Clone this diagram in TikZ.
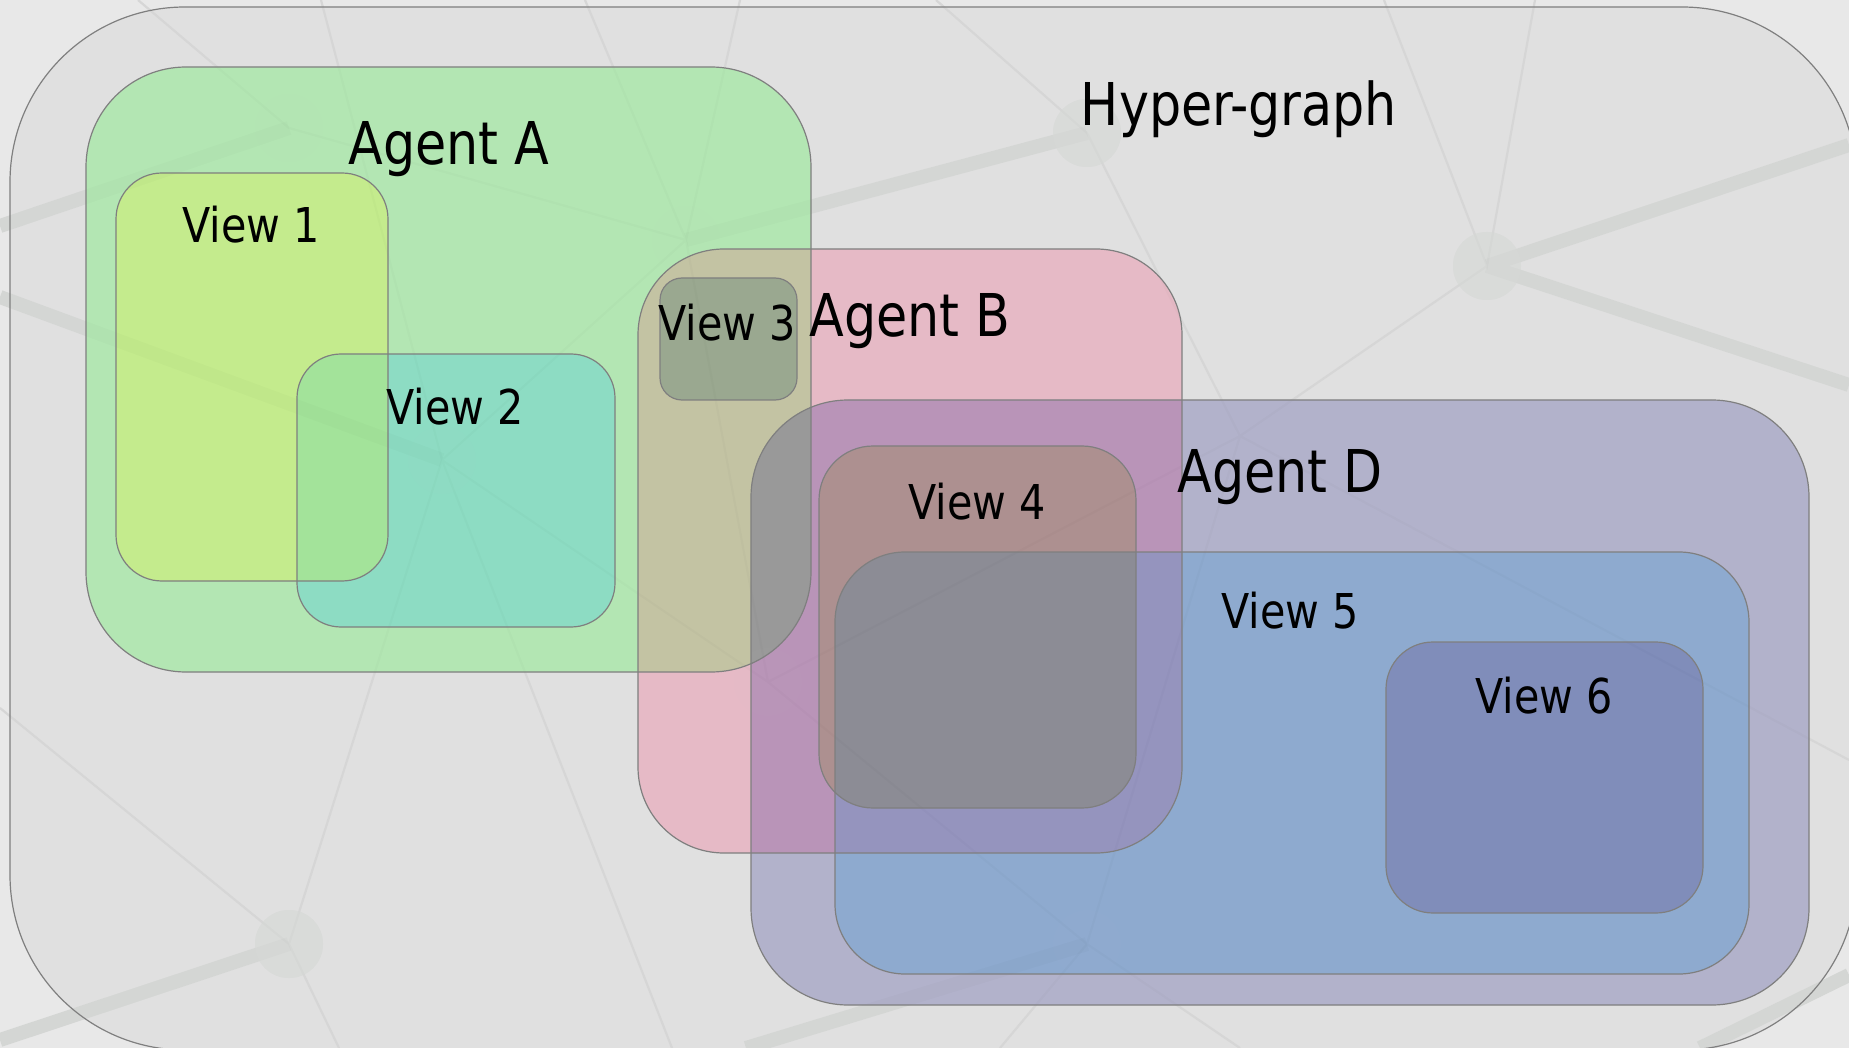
\documentclass[tikz,border=0pt]{standalone}
\usepackage{fontspec}
\setmainfont{DejaVu Sans}[FakeStretch=0.86]

\definecolor{bgout}{HTML}{E8E8E8}
\definecolor{hyperfill}{HTML}{E0E0E0}
\definecolor{netline}{HTML}{D8DAD8}
\definecolor{netfine}{HTML}{DADADA}
\definecolor{netspot}{HTML}{D9DBD9}
\definecolor{cAgA}{HTML}{B3E6B3}
\definecolor{cViewI}{HTML}{C4EB8D}
\definecolor{cViewII}{HTML}{8DDCC3}
\definecolor{cViewIandII}{HTML}{A3E39A}
\definecolor{cAgB}{HTML}{E6BAC6}
\definecolor{cAandB}{HTML}{C3C3A3}
\definecolor{cViewIII}{HTML}{9AA890}
\definecolor{cAgD}{HTML}{B2B2CB}
\definecolor{cBandD}{HTML}{B994B8}
\definecolor{cAandD}{HTML}{999999}
\definecolor{cViewIV}{HTML}{AD9090}
\definecolor{cViewV}{HTML}{8EAACF}
\definecolor{cVinB}{HTML}{9594BE}
\definecolor{cVinIV}{HTML}{8C8C95}
\definecolor{cViewVI}{HTML}{808DBA}
\definecolor{edgegray}{HTML}{7F7F7F}

% rounded boxes, in pixel-like units (1 unit = 0.5pt)
\newcommand\shHyper{[rounded corners=87.5pt] (10,7) rectangle (1857,1050)}
\newcommand\shAgA{[rounded corners=50pt] (86,67) rectangle (811,672)}
\newcommand\shViewI{[rounded corners=23pt] (116,173) rectangle (388,581)}
\newcommand\shViewII{[rounded corners=22pt] (297,354) rectangle (615,627)}
\newcommand\shViewIII{[rounded corners=11pt] (660,278) rectangle (797,400)}
\newcommand\shAgB{[rounded corners=43pt] (638,249) rectangle (1182,853)}
\newcommand\shAgD{[rounded corners=48.5pt] (751,400) rectangle (1809,1005)}
\newcommand\shViewIV{[rounded corners=27pt] (819,446) rectangle (1136,808)}
\newcommand\shViewV{[rounded corners=35pt] (835,552) rectangle (1749,974)}
\newcommand\shViewVI{[rounded corners=23.5pt] (1386,642) rectangle (1703,913)}

% the network texture, drawn twice: solid below the boxes, faint above them
\newcommand\netdraw[3]{%
  \draw[line width=7pt,draw=#1,opacity=#3] (oA) -- (nA)  (nB) -- (nC)
    (nD) -- (oB)  (nD) -- (oC)  (oD) -- (nF)  (nH) -- (oE)  (nI) -- (oF)  (oG) -- (oH);
  \draw[line width=1.1pt,draw=#2,opacity=#3]
    (tA) -- (nA) -- (nB)  (tB) -- (nF) -- (nG)  (tC) -- (nB) -- (tD)
    (nB) -- (nF) -- (nH)  (sA) -- (nH) -- (bA)  (nF) -- (bB)
    (nB) -- (nG) -- (nI)  (nG) -- (nE)  (tE) -- (nC) -- (nE)
    (tF) -- (nD) -- (tG)  (nD) -- (nE) -- (nI)  (nE) -- (rA)
    (nI) -- (bC)  (nI) -- (bD);
  \foreach \p in {nA,nB,nC,nD,nE,nF,nG,nH,nI}
    \fill[netspot,opacity=#3] (\p) circle[radius=17pt];
}

\begin{document}
\begin{tikzpicture}[x=0.5pt,y=-0.5pt,
  outline/.style={draw=edgegray,line width=0.6pt},
  lbig/.style={inner sep=0pt,anchor=base,text=black,font=\fontsize{29.5}{31}\selectfont},
  lsmall/.style={inner sep=0pt,anchor=base,text=black,font=\fontsize{24}{26}\selectfont}]

\useasboundingbox (0,0) rectangle (1849,1048);
\clip (0,0) rectangle (1849,1048);

% network points
\coordinate (nA) at (289,128);
\coordinate (nB) at (686,240);
\coordinate (nC) at (1087,133);
\coordinate (nD) at (1487,266);
\coordinate (nE) at (1240,436);
\coordinate (nF) at (442,460);
\coordinate (nG) at (768,682);
\coordinate (nH) at (289,944);
\coordinate (nI) at (1087,944);
\coordinate (oA) at (0,226);
\coordinate (oB) at (1849,145);
\coordinate (oC) at (1849,385);
\coordinate (oD) at (0,297);
\coordinate (oE) at (0,1040);
\coordinate (oF) at (746,1048);
\coordinate (oG) at (1700,1048);
\coordinate (oH) at (1849,975);
\coordinate (tA) at (138,0);
\coordinate (tB) at (321,0);
\coordinate (tC) at (585,0);
\coordinate (tD) at (740,0);
\coordinate (tE) at (936,0);
\coordinate (tF) at (1384,0);
\coordinate (tG) at (1535,0);
\coordinate (sA) at (0,708);
\coordinate (bA) at (339,1048);
\coordinate (bB) at (672,1048);
\coordinate (bC) at (1240,1048);
\coordinate (bD) at (1000,1048);
\coordinate (rA) at (1849,760);

% canvas and the hyper-graph frame
\fill[bgout] (0,0) rectangle (1849,1048);
\fill[hyperfill] \shHyper;
\netdraw{netline}{netfine}{1}

% agent A and its views
\fill[cAgA] \shAgA;
\fill[cViewI] \shViewI;
\fill[cViewII] \shViewII;
\begin{scope}
  \clip \shViewI;
  \fill[cViewIandII] \shViewII;
\end{scope}

% agent B
\fill[cAgB] \shAgB;
\begin{scope}
  \clip \shAgA;
  \fill[cAandB] \shAgB;
\end{scope}
\fill[cViewIII] \shViewIII;

% agent D
\fill[cAgD] \shAgD;
\begin{scope}
  \clip \shAgB;
  \fill[cBandD] \shAgD;
\end{scope}
\begin{scope}
  \clip \shAgA;
  \fill[cAandD] \shAgD;
\end{scope}

% views 4, 5, 6
\fill[cViewIV] \shViewIV;
\fill[cViewV] \shViewV;
\begin{scope}
  \clip \shAgB;
  \fill[cVinB] \shViewV;
\end{scope}
\begin{scope}
  \clip \shViewIV;
  \fill[cVinIV] \shViewV;
\end{scope}
\fill[cViewVI] \shViewVI;

% the texture showing faintly through the boxes
\netdraw{black}{black}{0.016}

% outlines
\draw[outline] \shHyper;
\draw[outline] \shAgA;
\draw[outline] \shViewI;
\draw[outline] \shViewII;
\draw[outline] \shAgB;
\draw[outline] \shViewIII;
\draw[outline] \shAgD;
\draw[outline] \shViewIV;
\draw[outline] \shViewV;
\draw[outline] \shViewVI;

% labels
\node[lbig] (tHyper) at (1239,126) {Hyper-graph};
\node[lbig] (tAgA) at (449,165) {Agent A};
\node[lbig] (tAgB) at (910,337) {Agent B};
\node[lbig] (tAgD) at (1280,492) {Agent D};
\node[lsmall] (tViewI) at (251,243) {View 1};
\node[lsmall] (tViewII) at (455,424) {View 2};
\node[lsmall] (tViewIII) at (727,341) {View 3};
\node[lsmall] (tViewIV) at (977,519) {View 4};
\node[lsmall] (tViewV) at (1290,628) {View 5};
\node[lsmall] (tViewVI) at (1544,713) {View 6};
\end{tikzpicture}
\end{document}
